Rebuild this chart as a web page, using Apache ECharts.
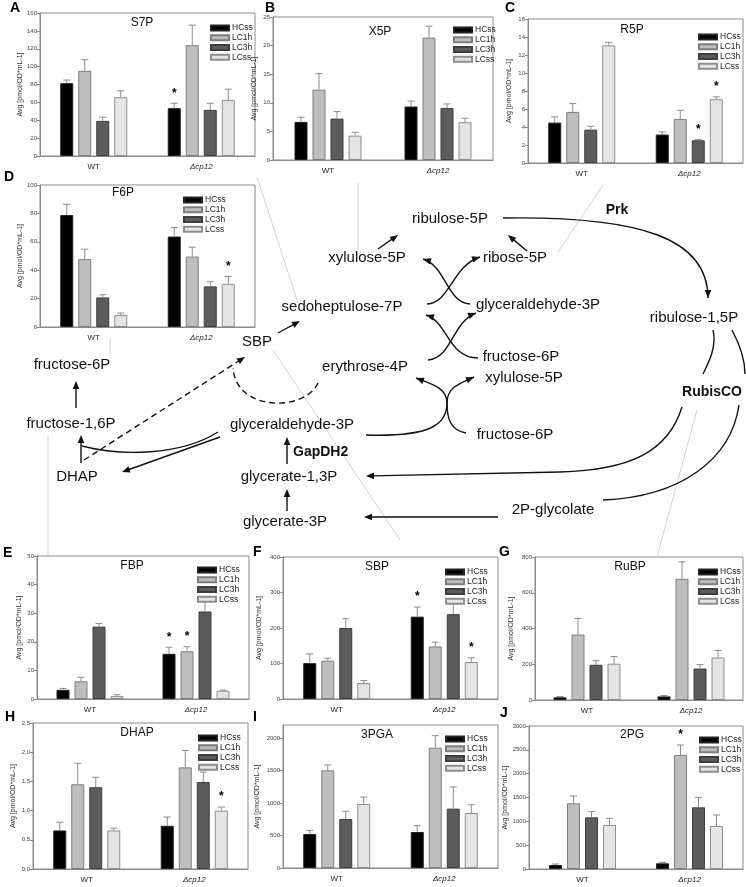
<!DOCTYPE html>
<html><head><meta charset="utf-8">
<script src="https://cdn.jsdelivr.net/npm/echarts@6/dist/echarts.min.js"></script>
<style>html,body{margin:0;padding:0;background:#fff;}#c{width:746px;height:887px;}</style>
</head><body><div id="c"></div><script>
// ---------------- DATA ----------------
const categories = ['WT', 'Δcp12'];
const seriesNames = ['HCss', 'LC1h', 'LC3h', 'LCss'];

const s7pWT = [81.5, 95.3, 39.3, 65.8];
const s7pCp12 = [53.5, 124.0, 51.6, 62.8];
const s7pSdWT = [3.5, 12.4, 4.1, 7.1];
const s7pSdCp12 = [5.5, 22.5, 7.4, 12.0];
const s7pStars = [[1, 0]];
const s7pTicks = [0, 20, 40, 60, 80, 100, 120, 140, 160];

const x5pWT = [6.66, 12.3, 7.24, 4.26];
const x5pCp12 = [9.35, 21.4, 9.1, 6.6];
const x5pSdWT = [0.82, 2.8, 1.23, 0.59];
const x5pSdCp12 = [0.95, 2.0, 0.7, 0.7];
const x5pStars = [];
const x5pTicks = [0, 5, 10, 15, 20, 25];

const r5pWT = [4.49, 5.68, 3.71, 13.07];
const r5pCp12 = [3.16, 4.9, 2.52, 7.09];
const r5pSdWT = [0.63, 0.92, 0.37, 0.33];
const r5pSdCp12 = [0.29, 0.96, 0.08, 0.26];
const r5pStars = [[1, 2], [1, 3]];
const r5pTicks = [0, 2, 4, 6, 8, 10, 12, 14, 16];

const f6pWT = [78.9, 47.8, 20.8, 8.4];
const f6pCp12 = [63.7, 49.6, 28.6, 30.4];
const f6pSdWT = [7.5, 7.0, 1.9, 1.4];
const f6pSdCp12 = [6.3, 6.6, 3.3, 5.2];
const f6pStars = [[1, 3]];
const f6pTicks = [0, 20, 40, 60, 80, 100];

const fbpWT = [3.2, 6.2, 25.3, 1.0];
const fbpCp12 = [15.8, 16.7, 30.6, 2.9];
const fbpSdWT = [0.5, 1.4, 1.1, 0.5];
const fbpSdCp12 = [2.3, 1.6, 3.6, 0.2];
const fbpStars = [[1, 0], [1, 1]];
const fbpTicks = [0, 10, 20, 30, 40, 50];

const sbpWT = [101, 108, 200, 45];
const sbpCp12 = [232, 148, 239, 104];
const sbpSdWT = [26, 7, 26, 7];
const sbpSdCp12 = [27, 12, 31, 12];
const sbpStars = [[1, 0], [1, 3]];
const sbpTicks = [0, 100, 200, 300, 400];

const rubpWT = [15, 366, 197, 203];
const rubpCp12 = [20, 678, 176, 238];
const rubpSdWT = [5, 90, 23, 40];
const rubpSdCp12 = [5, 95, 22, 39];
const rubpStars = [];
const rubpTicks = [0, 200, 400, 600, 800];

const dhapWT = [0.66, 1.45, 1.40, 0.66];
const dhapCp12 = [0.74, 1.74, 1.49, 1.00];
const dhapSdWT = [0.14, 0.36, 0.17, 0.04];
const dhapSdCp12 = [0.15, 0.29, 0.17, 0.06];
const dhapStars = [[1, 3]];
const dhapTicks = [0, 0.5, 1.0, 1.5, 2.0, 2.5];

const pgaWT = [523, 1503, 754, 985];
const pgaCp12 = [554, 1851, 913, 846];
const pgaSdWT = [56, 82, 118, 107];
const pgaSdCp12 = [97, 185, 333, 128];
const pgaStars = [];
const pgaTicks = [0, 500, 1000, 1500, 2000];
const pgaAxisMax = 2200;

const pgWT = [84, 1378, 1084, 923];
const pgCp12 = [119, 2392, 1294, 902];
const pgSdWT = [21, 153, 119, 140];
const pgSdCp12 = [21, 209, 209, 231];
const pgStars = [[1, 1]];
const pgTicks = [0, 500, 1000, 1500, 2000, 2500, 3000];

// ---------------- PANELS ----------------
const panels = [
  {name:'S7P', wt:s7pWT, cp:s7pCp12, sw:s7pSdWT, sc:s7pSdCp12, stars:s7pStars, ticks:s7pTicks},
  {name:'X5P', wt:x5pWT, cp:x5pCp12, sw:x5pSdWT, sc:x5pSdCp12, stars:x5pStars, ticks:x5pTicks},
  {name:'R5P', wt:r5pWT, cp:r5pCp12, sw:r5pSdWT, sc:r5pSdCp12, stars:r5pStars, ticks:r5pTicks},
  {name:'F6P', wt:f6pWT, cp:f6pCp12, sw:f6pSdWT, sc:f6pSdCp12, stars:f6pStars, ticks:f6pTicks},
  {name:'FBP', wt:fbpWT, cp:fbpCp12, sw:fbpSdWT, sc:fbpSdCp12, stars:fbpStars, ticks:fbpTicks},
  {name:'SBP', wt:sbpWT, cp:sbpCp12, sw:sbpSdWT, sc:sbpSdCp12, stars:sbpStars, ticks:sbpTicks},
  {name:'RuBP', wt:rubpWT, cp:rubpCp12, sw:rubpSdWT, sc:rubpSdCp12, stars:rubpStars, ticks:rubpTicks},
  {name:'DHAP', wt:dhapWT, cp:dhapCp12, sw:dhapSdWT, sc:dhapSdCp12, stars:dhapStars, ticks:dhapTicks, comma:true},
  {name:'3PGA', wt:pgaWT, cp:pgaCp12, sw:pgaSdWT, sc:pgaSdCp12, stars:pgaStars, ticks:pgaTicks, max:pgaAxisMax},
  {name:'2PG', wt:pgWT, cp:pgCp12, sw:pgSdWT, sc:pgSdCp12, stars:pgStars, ticks:pgTicks}
];
// layout: grid box, title pos, legend pos, letter, name gap
const layout = [
  {g:[40,13,215,143],  t:[142,23], l:[205,18], L:['A',10,8],  ng:15},
  {g:[273,17,220,143], t:[380,32], l:[448,20], L:['B',265,8], ng:15},
  {g:[528,19,215,144], t:[632,30], l:[693,27], L:['C',505,8], ng:15},
  {g:[40,185,215,142], t:[123,193],l:[178,190],L:['D',4,177], ng:15},
  {g:[37,556,212,143], t:[132,566],l:[192,560],L:['E',3,553], ng:14},
  {g:[283,557,215,142],t:[377,567],l:[440,562],L:['F',253,552],ng:20},
  {g:[535,557,208,143],t:[630,567],l:[693,562],L:['G',499,552],ng:20},
  {g:[33,723,215,146], t:[137,733],l:[193,728],L:['H',5,717], ng:16},
  {g:[283,725,215,143],t:[377,735],l:[440,729],L:['I',253,717],ng:22},
  {g:[529,726,214,143],t:[632,735],l:[694,730],L:['J',500,713],ng:20}
];

const barFill = ['#000000', '#bebebe', '#5c5c5c', '#e4e4e4'];
const barBorder = ['#222222', '#7e7e7e', '#3e3e3e', '#8e8e8e'];
const BW = 13, GAP = 5;
const offsets = [0,1,2,3].map(i => -(4*BW+3*GAP)/2 + i*(BW+GAP) + BW/2);
const FONT = '"Liberation Sans", Arial, sans-serif';

const grids = [], xAxes = [], yAxes = [], series = [], legends = [], graphics = [];

panels.forEach((p, k) => {
  const L = layout[k];
  grids.push({left:L.g[0], top:L.g[1], width:L.g[2], height:L.g[3], show:true,
    borderColor:'#8a8a8a', borderWidth:1, backgroundColor:'transparent', containLabel:false, outerBoundsMode:'none'});
  xAxes.push({type:'category', gridIndex:k, data:categories,
    axisLine:{lineStyle:{color:'#8a8a8a'}}, axisTick:{show:false},
    axisLabel:{show:true, fontSize:8, color:'#222', margin:7, fontFamily:FONT,
      formatter: v => v === 'Δcp12' ? '{it|Δcp12}' : v,
      rich:{it:{fontStyle:'italic', fontSize:8, color:'#222', fontFamily:FONT}}}});
  const tk = p.ticks;
  yAxes.push({type:'value', gridIndex:k, min:tk[0], max:(p.max || tk[tk.length-1]),
    interval:tk[1]-tk[0],
    name:'Avg [pmol/OD*mL-1]', nameLocation:'middle', nameGap:L.ng,
    nameTextStyle:{fontSize:7, color:'#333', fontFamily:FONT},
    axisLine:{show:true, lineStyle:{color:'#8a8a8a'}},
    axisTick:{show:true, length:3, lineStyle:{color:'#8a8a8a'}},
    splitLine:{show:false},
    axisLabel:{fontSize:6, color:'#444', margin:3, fontFamily:FONT, showMaxLabel: p.max ? false : true,
      formatter: v => p.comma ? v.toFixed(1).replace('.', ',') : String(v)}});
  seriesNames.forEach((nm, i) => {
    series.push({type:'bar', name:nm, xAxisIndex:k, yAxisIndex:k,
      data:[p.wt[i], p.cp[i]], barWidth:BW, barGap:(GAP/BW*100)+'%',
      itemStyle:{color:barFill[i], borderColor:barBorder[i], borderWidth:1},
      emphasis:{disabled:true}, animation:false, z:2});
  });
  const errData = [];
  seriesNames.forEach((nm, i) => {
    errData.push([0, i, p.wt[i], p.wt[i] + p.sw[i]]);
    errData.push([1, i, p.cp[i], p.cp[i] + p.sc[i]]);
  });
  series.push({type:'custom', xAxisIndex:k, yAxisIndex:k, data:errData, encode:{x:0, y:3}, z:3, silent:true,
    renderItem:(params, api) => {
      const c = api.value(0), si = api.value(1);
      const p0 = api.coord([c, api.value(2)]), p1 = api.coord([c, api.value(3)]);
      const x = p0[0] + offsets[si];
      return {type:'group', children:[
        {type:'line', shape:{x1:x, y1:p0[1], x2:x, y2:p1[1]}, style:{stroke:'#8c8c8c', lineWidth:1}},
        {type:'line', shape:{x1:x-3.5, y1:p1[1], x2:x+3.5, y2:p1[1]}, style:{stroke:'#8c8c8c', lineWidth:1}}
      ]};
    }});
  const starData = p.stars.map(s => {
    const m = s[0] === 0 ? p.wt[s[1]] : p.cp[s[1]];
    const sd = s[0] === 0 ? p.sw[s[1]] : p.sc[s[1]];
    return [s[0], s[1], m + sd];
  });
  if (starData.length) series.push({type:'custom', xAxisIndex:k, yAxisIndex:k, data:starData, encode:{x:0, y:2}, z:4, silent:true,
    renderItem:(params, api) => {
      const c = api.value(0), si = api.value(1);
      const pt = api.coord([c, api.value(2)]);
      return {type:'text', x:pt[0] + offsets[si], y:pt[1] - 4,
        style:{text:'*', fill:'#000', font:'bold 12px ' + FONT, align:'center', verticalAlign:'bottom'}};
    }});
  legends.push({left:L.l[0], top:L.l[1], orient:'vertical', data:seriesNames, icon:'rect',
    itemWidth:18, itemHeight:5, itemGap:0, selectedMode:false,
    textStyle:{fontSize:8.5, color:'#222', lineHeight:9.8, padding:[0,0,0,-2], fontFamily:FONT}});
  graphics.push({type:'text', x:L.t[0], y:L.t[1], z:10,
    style:{text:p.name, fill:'#111', font:'12px ' + FONT, align:'center', verticalAlign:'middle'}});
  graphics.push({type:'text', x:L.L[1], y:L.L[2], z:10,
    style:{text:L.L[0], fill:'#000', font:'bold 14px ' + FONT, align:'left', verticalAlign:'middle'}});
});

// ---------------- PATHWAY DIAGRAM ----------------
const PF = '15px ' + FONT, PB = 'bold 14px ' + FONT;
const labels = [
  ['ribulose-5P', 450, 219], ['xylulose-5P', 367, 258], ['ribose-5P', 515, 258],
  ['sedoheptulose-7P', 342, 307], ['glyceraldehyde-3P', 538, 305], ['ribulose-1,5P', 694, 318],
  ['SBP', 257, 342], ['fructose-6P', 521, 357], ['fructose-6P', 72, 365], ['erythrose-4P', 365, 367],
  ['xylulose-5P', 524, 378], ['fructose-1,6P', 71, 424], ['glyceraldehyde-3P', 292, 425],
  ['fructose-6P', 515, 435], ['DHAP', 77, 477], ['glycerate-1,3P', 289, 477],
  ['2P-glycolate', 553, 510], ['glycerate-3P', 285, 522]
];
labels.forEach(t => graphics.push({type:'text', x:t[1], y:t[2], z:5,
  style:{text:t[0], fill:'#111', font:PF, align:'center', verticalAlign:'middle'}}));
[['Prk', 617, 210, 'center'], ['RubisCO', 712, 392, 'center'], ['GapDH2', 293, 452, 'left']].forEach(t =>
  graphics.push({type:'text', x:t[1], y:t[2], z:5, style:{text:t[0], fill:'#111', font:PB, align:t[3], verticalAlign:'middle'}}));

const ST = {stroke:'#111', lineWidth:1.4, fill:null};
function head(x, y, dx, dy) {
  const len = Math.hypot(dx, dy), ux = dx/len, uy = dy/len, L = 8, W = 3.3;
  const bx = x - ux*L, by = y - uy*L;
  return {type:'polygon', z:6, shape:{points:[[x,y],[bx - uy*W, by + ux*W],[bx + uy*W, by - ux*W]]}, style:{fill:'#111'}};
}
function arrow(x1, y1, x2, y2, dash) {
  const len = Math.hypot(x2-x1, y2-y1), ux = (x2-x1)/len, uy = (y2-y1)/len;
  graphics.push({type:'line', z:6, shape:{x1, y1, x2:x2-ux*6, y2:y2-uy*6}, style:Object.assign({}, ST, dash ? {lineDash:[6,4]} : {})});
  graphics.push(head(x2, y2, ux, uy));
}
function curve(p0, c1, c2, p3, withHead, dash) {
  graphics.push({type:'bezierCurve', z:6, shape:{x1:p0[0], y1:p0[1], cpx1:c1[0], cpy1:c1[1], cpx2:c2[0], cpy2:c2[1], x2:p3[0], y2:p3[1]},
    style:Object.assign({}, ST, dash ? {lineDash:[6,4]} : {})});
  if (withHead) graphics.push(head(p3[0], p3[1], p3[0]-c2[0], p3[1]-c2[1]));
}
function seg(x1, y1, x2, y2, color, w) {
  graphics.push({type:'line', z:1, shape:{x1, y1, x2, y2}, style:{stroke:color || '#111', lineWidth:w || 1.4}});
}
// Prk
curve([503,218], [640,216], [708,238], [708,298], true);
// to ribulose-5P
arrow(378, 249, 398, 235);
arrow(527, 251, 508, 235);
// upper cross
curve([427,304], [450,303], [452,266], [480,257], true);
curve([470,304], [447,303], [446,266], [423,259], true);
// middle cross
curve([428,360], [452,358], [452,322], [476,313], true);
curve([478,358], [448,358], [448,322], [426,315], true);
// lower cross
curve([366,435], [430,437], [447,425], [447,403], false);
curve([447,403], [447,388], [458,384], [474,377], true);
curve([466,433], [450,430], [447,418], [447,403], false);
curve([447,403], [447,388], [432,384], [416,378], true);
// SBP -> S7P
arrow(278, 333, 300, 321);
// dashed DHAP -> SBP and arc from E4P
arrow(84, 460, 245, 357, true);
curve([318,383], [305,412], [236,412], [233,368], false, true);
// F1,6P -> F6P
arrow(76, 408, 76, 381);
// DHAP -> F1,6P
arrow(81, 463, 81, 435);
// GAP -> F1,6P (joins)
curve([218,432], [180,456], [120,456], [82,446], false);
// GAP -> DHAP
arrow(220, 437, 122, 472);
// GapDH2
arrow(287, 464, 287, 437);
// 3PGA -> 1,3BPG
arrow(287, 511, 287, 489);
// RubisCO curves
curve([713,330], [717,346], [709,362], [703,374], false);
curve([682,407], [668,452], [630,470], [560,472], false);
arrow(560, 472, 366, 476);
curve([732,330], [740,345], [745,360], [745,374], false);
curve([739,405], [731,460], [680,497], [603,500], false);
// 2P-glycolate -> glycerate-3P
arrow(498, 517, 364, 517);
// light grey connectors
seg(257,177, 298,303, '#c8c8c8', 0.8);
seg(358,183, 358,250, '#c8c8c8', 0.8);
seg(603,185, 558,252, '#c8c8c8', 0.8);
seg(110,338, 110,354, '#c8c8c8', 0.8);
seg(273,350, 400,540, '#c8c8c8', 0.8);
seg(48,436, 48,556, '#c8c8c8', 0.8);
seg(697,410, 657,557, '#c8c8c8', 0.8);

const chart = echarts.init(document.getElementById('c'), null, {renderer:'canvas'});
chart.setOption({
  animation:false, backgroundColor:'#ffffff',
  grid:grids, xAxis:xAxes, yAxis:yAxes, series:series, legend:legends, graphic:graphics
});
</script></body></html>
